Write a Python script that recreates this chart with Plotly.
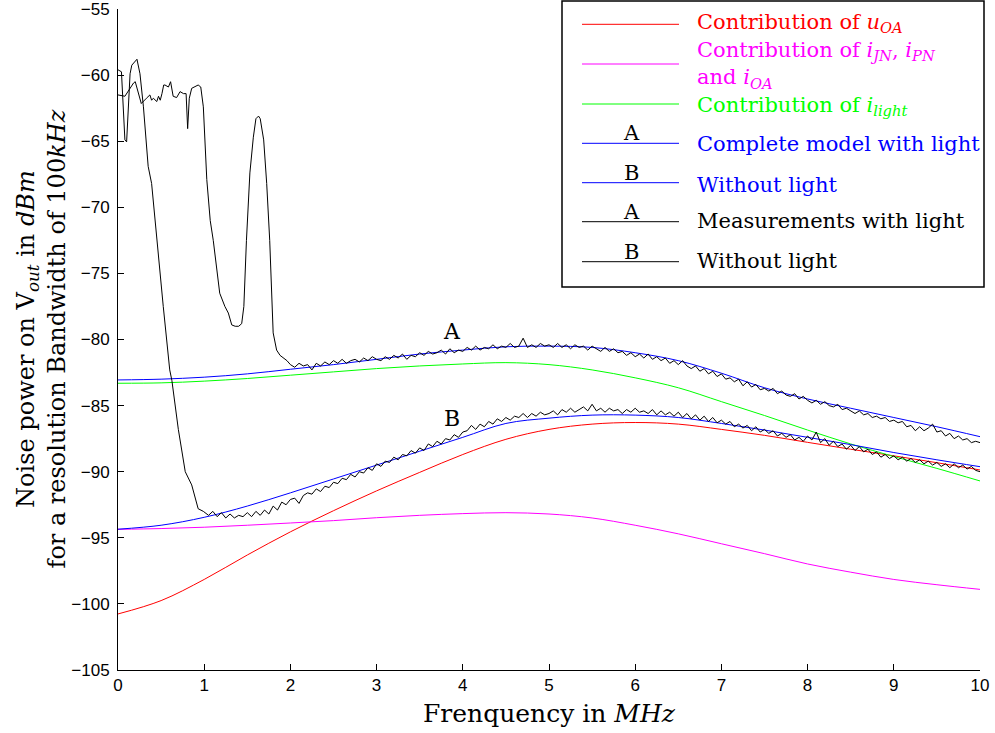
import plotly.graph_objects as go

# ---------------- data ----------------
# model curves (sampled every 0.5 MHz)
f_model = [0.0, 0.5, 1.0, 1.5, 2.0, 2.5, 3.0, 3.5, 4.0, 4.5, 5.0, 5.5, 6.0, 6.5, 7.0, 7.5, 8.0, 8.5, 9.0, 9.5, 10.0]
u_oa = [-100.76, -99.75, -98.15, -96.3, -94.55, -92.95, -91.45, -90.05, -88.7, -87.55, -86.8, -86.4, -86.28, -86.4, -86.8, -87.25, -87.78, -88.3, -88.8, -89.32, -89.87]
i_jn_pn_oa = [-94.36, -94.3, -94.2, -94.05, -93.88, -93.7, -93.48, -93.3, -93.17, -93.1, -93.2, -93.5, -94.05, -94.7, -95.45, -96.2, -96.98, -97.6, -98.15, -98.55, -98.9]
i_light = [-83.31, -83.28, -83.15, -82.95, -82.7, -82.45, -82.2, -82.0, -81.85, -81.75, -81.9, -82.3, -82.9, -83.65, -84.7, -85.75, -86.85, -87.9, -88.85, -89.75, -90.7]
model_A = [-83.06, -83.0, -82.85, -82.6, -82.25, -81.9, -81.5, -81.1, -80.8, -80.55, -80.5, -80.6, -81.0, -81.6, -82.55, -83.65, -84.5, -85.2, -85.9, -86.6, -87.35]
model_B = [-94.35, -94.05, -93.45, -92.6, -91.6, -90.55, -89.5, -88.45, -87.4, -86.35, -85.95, -85.72, -85.72, -85.9, -86.35, -86.85, -87.4, -87.95, -88.55, -89.1, -89.62]

# measurement A (with light): irregular start, then 0.05 MHz steps from 2.0
fA_head = [0.0, 0.08, 0.18, 0.20, 0.27, 0.29, 0.33, 0.37, 0.39, 0.41, 0.45, 0.47, 0.49, 0.51, 0.53, 0.545,
           0.585, 0.61, 0.64, 0.68, 0.72, 0.76, 0.79, 0.808, 0.827, 0.855, 0.893, 0.93, 0.96, 0.99, 1.03,
           1.07, 1.105, 1.145, 1.18, 1.24, 1.28, 1.32, 1.36, 1.40, 1.435, 1.46, 1.49, 1.53, 1.57, 1.60,
           1.63, 1.65, 1.69, 1.725, 1.76, 1.80, 1.84, 1.88, 1.92, 1.96]
vA_head = [-61.5, -61.6, -60.6, -60.5, -62.15, -62.0, -61.75, -61.5, -61.9, -61.75, -62.0, -61.6, -61.9, -61.4,
           -60.75, -60.75, -60.9, -60.5, -61.6, -61.7, -61.25, -61.4, -61.4, -64.05, -61.75, -61.0, -60.9,
           -60.75, -60.9, -62.4, -67.9, -71.0, -72.5, -74.5, -76.5, -77.5, -78.0, -78.9, -79.0, -79.0, -78.8,
           -77.5, -72.5, -67.4, -64.7, -63.3, -63.1, -63.3, -64.9, -68.2, -72.5, -79.5, -80.8, -81.2, -81.4, -81.6]
vA_grid = [
    -81.9, -82.1, -81.8, -82.0, -81.9, -82.3, -81.8, -82.0, -81.7, -81.9, -81.6, -81.8, -81.5, -81.8, -81.6, -81.5, -81.7, -81.4, -81.6, -81.3,
    -81.5, -81.6, -81.3, -81.5, -81.2, -81.4, -81.1, -81.5, -81.2, -81.3, -81.0, -81.2, -80.9, -81.1, -81.0, -80.8, -81.1, -80.7, -81.0, -80.8,
    -80.9, -80.6, -80.8, -80.5, -80.8, -80.6, -80.7, -80.4, -80.7, -80.5, -80.6, -80.3, -80.6, -80.5, -79.9, -80.6, -80.4, -80.6, -80.3, -80.5,
    -80.4, -80.6, -80.3, -80.6, -80.4, -80.7, -80.4, -80.6, -80.5, -80.8, -80.5, -80.7, -80.9, -80.6, -80.9, -80.7, -81.0, -80.9, -81.2, -81.0,
    -81.3, -81.1, -81.4, -81.1, -81.5, -81.3, -81.6, -81.4, -81.8, -81.6, -81.9, -81.6, -82.0, -82.2, -82.0, -82.4, -82.2, -82.6, -82.4, -82.8,
    -82.6, -83.0, -82.9, -83.2, -83.0, -83.5, -83.2, -83.6, -83.4, -83.8, -83.7, -83.9, -83.7, -84.1, -83.9, -84.2, -84.3, -84.1, -84.5, -84.3,
    -84.6, -84.8, -84.6, -84.9, -84.7, -85.0, -85.1, -84.9, -85.3, -85.2, -85.4, -85.6, -85.4, -85.7, -85.6, -85.9, -85.8, -86.0, -85.9, -86.2,
    -86.1, -86.3, -86.2, -86.6, -86.5, -86.9, -86.6, -86.9, -86.7, -86.4, -87.0, -86.9, -87.3, -87.1, -87.5, -87.3, -87.6, -87.5, -87.8, -87.7,
    -87.8]

# measurement B (without light): irregular start, then 0.05 MHz steps from 1.05
fB_head = [0.0, 0.04, 0.08, 0.10, 0.14, 0.16, 0.22, 0.255, 0.295, 0.35, 0.39, 0.45, 0.525, 0.60, 0.625, 0.70,
           0.78, 0.855, 0.93, 0.99]
vB_head = [-59.6, -59.75, -64.9, -65.05, -59.9, -59.25, -58.8, -59.9, -62.4, -66.9, -68.2, -72.5, -77.5, -82.3,
           -83.1, -86.8, -90.0, -91.0, -92.8, -93.0]
vB_grid = [
    -93.3, -93.0, -93.4, -93.1, -93.5, -93.2, -93.5, -93.3, -93.4, -93.1, -93.4, -93.0, -93.3, -92.9, -93.2, -92.6, -92.9, -92.3, -92.5,
    -92.1, -92.0, -92.4, -91.8, -91.6, -91.7, -91.3, -91.5, -91.1, -91.2, -90.8, -90.9, -90.5, -90.6, -90.2, -90.4, -90.0, -90.1, -89.7, -89.9,
    -89.4, -89.6, -89.2, -89.3, -88.9, -89.1, -88.7, -88.8, -88.4, -88.6, -88.2, -88.4, -87.9, -88.1, -87.7, -87.9, -87.5, -87.6, -87.2, -87.4,
    -87.0, -86.9, -86.5, -86.8, -86.4, -86.6, -86.2, -86.4, -86.0, -86.2, -85.9, -86.1, -85.8, -85.9, -85.6, -85.9, -85.6, -85.8, -85.5, -85.7,
    -85.6, -85.4, -85.7, -85.3, -85.5, -85.2, -85.5, -85.3, -85.1, -85.4, -84.9, -85.4, -85.2, -85.5, -85.2, -85.4, -85.3, -85.6, -85.3, -85.5,
    -85.2, -85.5, -85.4, -85.6, -85.3, -85.7, -85.4, -85.7, -85.5, -85.8, -85.5, -85.9, -85.6, -86.0, -85.7, -86.1, -85.8, -86.2, -85.9, -86.3,
    -86.1, -86.4, -86.2, -86.6, -86.4, -86.7, -86.5, -86.9, -86.6, -87.0, -86.8, -87.1, -86.9, -87.3, -87.1, -87.4, -87.2, -87.6, -87.4, -87.7,
    -87.3, -87.6, -87.0, -87.8, -87.5, -88.0, -87.7, -88.1, -87.9, -88.3, -88.0, -88.4, -88.1, -88.5, -88.3, -88.7, -88.5, -88.9, -88.7, -89.0,
    -88.8, -89.1, -88.9, -89.2, -89.0, -89.3, -89.1, -89.4, -89.2, -89.5, -89.3, -89.6, -89.4, -89.7, -89.4, -89.7, -89.5, -89.8, -89.6, -89.9,
    -90.0]

x_ticks = [0, 1, 2, 3, 4, 5, 6, 7, 8, 9, 10]
y_ticks = [-105, -100, -95, -90, -85, -80, -75, -70, -65, -60, -55]

legend_labels = [
    "Contribution of <i>u</i><sub><i>OA</i></sub>",
    "Contribution of <i>i</i><sub><i>JN</i></sub>, <i>i</i><sub><i>PN</i></sub><br>and <i>i</i><sub><i>OA</i></sub>",
    "Contribution of <i>i</i><sub><i>light</i></sub>",
    "Complete model with light",
    "Without light",
    "Measurements with light",
    "Without light",
]
legend_marks = ["", "", "", "A", "B", "A", "B"]
colors = ["#ff0000", "#ff00ff", "#00ff00", "#0000ff", "#0000ff", "#000000", "#000000"]

# ---------------- figure ----------------
fA = fA_head + [round(2.0 + 0.05 * i, 2) for i in range(len(vA_grid))]
vA = vA_head + vA_grid
fB = fB_head + [round(1.05 + 0.05 * i, 2) for i in range(len(vB_grid))]
vB = vB_head + vB_grid

fig = go.Figure()
for ys, c in [(u_oa, colors[0]), (i_jn_pn_oa, colors[1]), (i_light, colors[2]),
              (model_A, colors[3]), (model_B, colors[4])]:
    fig.add_trace(go.Scatter(x=f_model, y=ys, mode="lines",
                             line=dict(color=c, width=1, shape="spline", smoothing=1.0),
                             showlegend=False, hoverinfo="skip"))
fig.add_trace(go.Scatter(x=fA, y=vA, mode="lines", line=dict(color="black", width=1),
                         showlegend=False, hoverinfo="skip"))
fig.add_trace(go.Scatter(x=fB, y=vB, mode="lines", line=dict(color="black", width=1),
                         showlegend=False, hoverinfo="skip"))

W, H = 995, 733
L, R, T, B = 118, 15, 9, 63
PW, PH = W - L - R, H - T - B


def px(xp):
    return (xp - L) / PW


def py(yp):
    return (H - B - yp) / PH


serif = "DejaVu Serif"
annotations = []
shapes = []

# curve labels
annotations.append(dict(x=3.875, y=-79.4, xref="x", yref="y", text="A", showarrow=False,
                        font=dict(family=serif, size=22, color="black")))
annotations.append(dict(x=3.875, y=-85.95, xref="x", yref="y", text="B", showarrow=False,
                        font=dict(family=serif, size=22, color="black")))

# axis titles
annotations.append(dict(x=0.5, y=py(713), xref="paper", yref="paper", text="Frenquency in <i>MHz</i>",
                        showarrow=False, xanchor="center", yanchor="middle",
                        font=dict(family=serif, size=25, color="black")))
annotations.append(dict(x=px(41), y=0.5, xref="paper", yref="paper", textangle=-90,
                        text="Noise power on V<sub><i>out</i></sub> in <i>dBm</i><br>for a resolution Bandwidth of 100<i>kHz</i>",
                        showarrow=False, xanchor="center", yanchor="middle",
                        font=dict(family=serif, size=24, color="black")))

# legend
shapes.append(dict(type="rect", xref="paper", yref="paper", x0=px(562), x1=px(984), y0=py(287), y1=py(1),
                   line=dict(color="black", width=1.5), fillcolor="white", layer="above"))
row_y = [24.3, 64, 104, 143.3, 182.7, 221.7, 261.7]
text_y = [23, 65, 106, 144, 185, 221, 261]
for i in range(7):
    shapes.append(dict(type="line", xref="paper", yref="paper", x0=px(582), x1=px(679),
                       y0=py(row_y[i]), y1=py(row_y[i]), line=dict(color=colors[i], width=1), layer="above"))
    annotations.append(dict(x=px(695), y=py(text_y[i]), xref="paper", yref="paper", text=legend_labels[i],
                            showarrow=False, xanchor="left", yanchor="middle", align="left",
                            font=dict(family=serif, size=21, color=colors[i])))
    if legend_marks[i]:
        annotations.append(dict(x=px(631), y=py(row_y[i] + 4), xref="paper", yref="paper",
                                text=legend_marks[i], showarrow=False, xanchor="center", yanchor="bottom",
                                font=dict(family=serif, size=21, color="black")))

axis_common = dict(showgrid=False, zeroline=False, showline=True, linecolor="black", linewidth=1,
                   ticks="inside", ticklen=6, tickcolor="black", tickwidth=1, mirror=False,
                   automargin=False, ticklabeloverflow="allow",
                   tickfont=dict(family="Liberation Sans", size=17, color="black"))

fig.update_layout(
    width=W, height=H, autosize=False,
    margin=dict(l=L, r=R, t=T, b=B, pad=0, autoexpand=False),
    plot_bgcolor="white", paper_bgcolor="white",
    xaxis=dict(range=[0, 10], tickvals=x_ticks, ticktext=[str(v) for v in x_ticks], **axis_common),
    yaxis=dict(range=[-105, -55], tickvals=y_ticks, ticktext=["\u2212" + str(-v) for v in y_ticks],
               ticklabelstandoff=4, **axis_common),
    annotations=annotations, shapes=shapes, showlegend=False,
)

fig.write_html("out.html")
